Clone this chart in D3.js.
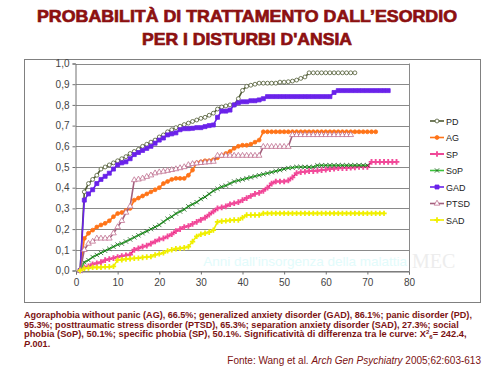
<!DOCTYPE html>
<html><head><meta charset="utf-8">
<script src="https://cdn.jsdelivr.net/npm/d3@7"></script>
<style>
html,body{margin:0;padding:0;background:#fff;}
svg{display:block;font-family:"Liberation Sans",Arial,sans-serif;}
</style></head>
<body>
<script>
// ---- data (years since onset start at 1) ----
const yTicks = [0,0.1,0.2,0.3,0.4,0.5,0.6,0.7,0.8,0.9,1.0];
const xTicks = [0,10,20,30,40,50,60,70,80];
const seriesNames = ["PD","AG","SP","SoP","GAD","PTSD","SAD"];

const PD = [0,0.38,0.42,0.44,0.46,0.49,0.50,0.51,0.52,0.53,0.54,0.55,0.565,0.575,0.585,0.60,0.61,0.62,0.63,0.645,
  0.655,0.67,0.68,0.69,0.697,0.705,0.712,0.72,0.727,0.735,0.74,0.75,0.76,0.78,0.79,0.795,0.80,0.80,0.83,0.87,
  0.89,0.895,0.90,0.905,0.905,0.905,0.905,0.905,0.91,0.91,0.912,0.915,0.92,0.928,0.935,0.955,0.955,0.955,0.955,0.955,
  0.955,0.955,0.955,0.955,0.955,0.955,0.955];
const AG = [0,0.155,0.18,0.195,0.21,0.22,0.228,0.24,0.26,0.275,0.28,0.29,0.30,0.34,0.35,0.36,0.37,0.38,0.39,0.40,
  0.42,0.43,0.44,0.445,0.445,0.445,0.46,0.485,0.52,0.525,0.53,0.53,0.535,0.545,0.555,0.565,0.575,0.59,0.60,0.605,
  0.605,0.61,0.62,0.63,0.67,0.67,0.67,0.67,0.67,0.67,0.67,0.67,0.67,0.67,0.67,0.67,0.67,0.67,0.67,0.67,
  0.67,0.67,0.67,0.67,0.67,0.67,0.67,0.67,0.67,0.67,0.67,0.67];
const SP = [0,0.015,0.02,0.03,0.035,0.04,0.05,0.055,0.06,0.065,0.07,0.073,0.077,0.10,0.107,0.115,0.12,0.13,0.14,0.15,
  0.155,0.165,0.175,0.19,0.20,0.21,0.215,0.225,0.235,0.245,0.255,0.27,0.285,0.30,0.305,0.31,0.32,0.325,0.33,0.34,
  0.35,0.36,0.37,0.375,0.385,0.40,0.42,0.43,0.43,0.43,0.435,0.45,0.47,0.475,0.477,0.48,0.48,0.482,0.485,0.487,
  0.49,0.492,0.494,0.495,0.495,0.497,0.498,0.50,0.50,0.50,0.525,0.525,0.525,0.525,0.525,0.525,0.525];
const SoP = [0,0.04,0.05,0.065,0.075,0.085,0.095,0.105,0.115,0.125,0.13,0.14,0.15,0.16,0.17,0.18,0.19,0.20,0.21,0.22,
  0.235,0.25,0.26,0.275,0.285,0.295,0.31,0.32,0.33,0.345,0.355,0.37,0.385,0.395,0.405,0.41,0.42,0.43,0.435,0.44,
  0.445,0.45,0.455,0.46,0.465,0.47,0.475,0.48,0.485,0.49,0.495,0.497,0.50,0.50,0.50,0.50,0.50,0.508,0.508,0.508,
  0.508,0.508,0.508,0.508,0.508,0.508,0.508,0.508,0.508,0.508];
const GAD = [0,0.34,0.37,0.39,0.42,0.44,0.455,0.47,0.49,0.51,0.52,0.525,0.54,0.56,0.57,0.58,0.59,0.60,0.615,0.63,
  0.64,0.655,0.66,0.665,0.68,0.685,0.685,0.687,0.69,0.69,0.695,0.70,0.703,0.74,0.77,0.77,0.775,0.80,0.81,0.815,
  0.815,0.82,0.82,0.824,0.83,0.84,0.84,0.84,0.84,0.84,0.84,0.84,0.84,0.84,0.84,0.84,0.84,0.84,0.84,0.84,
  0.84,0.86,0.869,0.869,0.869,0.869,0.869,0.869,0.869,0.869,0.869,0.869,0.869,0.869,0.869];
const PTSD = [0,0.10,0.13,0.14,0.155,0.155,0.155,0.155,0.18,0.21,0.24,0.28,0.31,0.437,0.44,0.445,0.453,0.46,0.47,0.475,
  0.478,0.482,0.486,0.49,0.495,0.50,0.51,0.515,0.518,0.52,0.522,0.524,0.526,0.555,0.555,0.555,0.555,0.555,0.555,0.555,
  0.555,0.555,0.555,0.555,0.598,0.598,0.598,0.598,0.598,0.598,0.598,0.655,0.655,0.655,0.655,0.655,0.655,0.655,0.655,0.655,
  0.655,0.655,0.655,0.655,0.655,0.655];
const SAD = [0,0.01,0.012,0.015,0.015,0.015,0.018,0.018,0.02,0.05,0.052,0.055,0.057,0.059,0.06,0.063,0.065,0.067,0.075,0.08,
  0.085,0.095,0.10,0.105,0.107,0.11,0.115,0.14,0.165,0.175,0.18,0.185,0.195,0.235,0.238,0.24,0.242,0.244,0.244,0.255,
  0.268,0.268,0.268,0.268,0.276,0.276,0.276,0.276,0.276,0.276,0.276,0.276,0.276,0.276,0.276,0.276,0.276,0.276,0.276,0.276,
  0.276,0.276,0.276,0.276,0.276,0.276,0.276,0.276,0.276,0.276,0.276,0.276,0.276,0.276];

const seriesValues = {PD, AG, SP, SoP, GAD, PTSD, SAD};

// ---- styles ----
const styles = {
  PD:   {line:"#4f5a34", sym:d3.symbolCircle, size:12, fill:"#ffffff", stroke:"#4f5a34"},
  AG:   {line:"#ff7418", sym:d3.symbolCircle, size:12, fill:"#ff7418", stroke:"#ff7418"},
  SP:   {line:"#e8197c", sym:d3.symbolCross,  size:18, fill:"#f24a9a", stroke:"none"},
  SoP:  {line:"#3cc23c", sym:d3.symbolTimes,  size:14, fill:"none", stroke:"#1d5a1d"},
  GAD:  {line:"#6a22ea", sym:d3.symbolSquare, size:16, fill:"#6a22ea", stroke:"#6a22ea"},
  PTSD: {line:"#a2607c", sym:d3.symbolTriangle, size:14, fill:"#ffffff", stroke:"#c07090"},
  SAD:  {line:"#f0ef00", sym:d3.symbolCross,  size:16, fill:"#f0ef00", stroke:"none"}
};

const W = 491, H = 369;
const svg = d3.select("body").append("svg").attr("width", W).attr("height", H);

// watermark-like faint letters (background decoration)
const wm = [["MEC",412,268]];
svg.selectAll("text.wm").data(wm).enter().append("text").attr("class","wm")
  .attr("x",d=>d[1]).attr("y",d=>d[2]).text(d=>d[0])
  .style("font-family","'Liberation Serif','DejaVu Serif',serif").style("font-size","20px")
  .style("fill","#ededed");

// title
const title = [["PROBABILITÀ DI TRATTAMENTO DALL’ESORDIO",22,420],["PER I DISTURBI D'ANSIA",45,210]];
svg.selectAll("text.title").data(title).enter().append("text").attr("class","title")
  .attr("x",247).attr("y",d=>d[1]).attr("text-anchor","middle")
  .attr("textLength",d=>d[2]).attr("lengthAdjust","spacingAndGlyphs")
  .style("font-size","17px").style("font-weight","bold")
  .style("fill","#8c1010").style("stroke","#8c1010").style("stroke-width","0.7px")
  .text(d=>d[0]);

// chart frame
svg.append("rect").attr("x",24.5).attr("y",59.5).attr("width",456).attr("height",243)
  .attr("fill","none").attr("stroke","#808080").attr("stroke-width",1);

const x = d3.scaleLinear().domain([0,80]).range([76,409]);
const y = d3.scaleLinear().domain([0,1]).range([270.5,63.5]);

// faint axis title
svg.append("text").attr("x",407).attr("y",266).attr("text-anchor","end")
  .style("font-size","13.5px").style("fill","#e2fbfb").text("Anni dall'insorgenza della malattia");

// gridlines
svg.append("g").selectAll("line").data(yTicks).enter().append("line")
  .attr("x1",x(0)).attr("x2",x(80)).attr("y1",d=>Math.round(y(d))+0.5).attr("y2",d=>Math.round(y(d))+0.5)
  .attr("stroke","#8a8a8a").attr("stroke-width",1);
svg.append("line").attr("x1",x(80)+0.5).attr("x2",x(80)+0.5).attr("y1",y(1)).attr("y2",y(0)+1)
  .attr("stroke","#8a8a8a");

// axes
const yAxis = d3.axisLeft(y).tickValues(yTicks).tickSize(3).tickPadding(3)
  .tickFormat(d=>d3.format(".1f")(d).replace(".",","));
const gy = svg.append("g").attr("transform",`translate(${x(0)-0.5},0)`).call(yAxis);
const xAxis = d3.axisBottom(x).tickValues(xTicks).tickSize(3).tickPadding(4);
const gx = svg.append("g").attr("transform",`translate(0,${Math.round(y(0))+0.5})`).call(xAxis);
[gy,gx].forEach(g=>{
  g.select(".domain").attr("stroke","#707070");
  g.selectAll(".tick line").attr("stroke","#707070");
  g.selectAll(".tick text").style("font-family","'Liberation Sans',Arial,sans-serif")
    .style("font-size","10px").style("fill","#444");
});

// series
const line = d3.line().x((d,i)=>x(i+1)).y(d=>y(d));
const plot = svg.append("g");
seriesNames.forEach(name=>{
  const st = styles[name], vals = seriesValues[name];
  plot.append("path").datum(vals).attr("d",line).attr("fill","none")
    .attr("stroke",st.line).attr("stroke-width",1.6).attr("stroke-linejoin","round");
  plot.append("g").selectAll("path").data(vals).enter().append("path")
    .attr("transform",(d,i)=>`translate(${x(i+1)},${y(d)})`)
    .attr("d",d3.symbol().type(st.sym).size(st.size))
    .attr("fill",st.fill).attr("stroke",st.stroke).attr("stroke-width",0.8);
});

// legend
const lg = svg.append("g");
const ly = d3.scalePoint().domain(seriesNames).range([121,220]);
seriesNames.forEach(name=>{
  const st = styles[name], yy = ly(name);
  lg.append("line").attr("x1",430).attr("x2",444).attr("y1",yy).attr("y2",yy)
    .attr("stroke",st.line).attr("stroke-width",1.6);
  lg.append("path").attr("transform",`translate(437,${yy})`)
    .attr("d",d3.symbol().type(st.sym).size(st.size))
    .attr("fill",st.fill).attr("stroke",st.stroke).attr("stroke-width",0.8);
  lg.append("text").attr("x",446).attr("y",yy+3.5).style("font-size","9px").style("fill","#222").text(name);
});

// footer text: font size fitted so each line spans the reference width
const fcol = "#7c1212";
const foot = svg.append("g").style("font-weight","bold").style("fill",fcol);
function fit(sel, target){
  sel.style("font-size","10px");
  const w = sel.node().getComputedTextLength();
  const fs = Math.min(10, 10*target/w);
  sel.style("font-size", fs.toFixed(2)+"px");
}
const l1 = foot.append("text").attr("x",24).attr("y",318)
  .text("Agoraphobia without panic (AG), 66.5%; generalized anxiety disorder (GAD), 86.1%; panic disorder (PD),");
fit(l1, 448);
const l2 = foot.append("text").attr("x",24).attr("y",327.5)
  .text("95.3%; posttraumatic stress disorder (PTSD), 65.3%; separation anxiety disorder (SAD), 27.3%; social");
fit(l2, 435);
const t3 = foot.append("text").attr("x",24).attr("y",337);
t3.append("tspan").text("phobia (SoP), 50.1%; specific phobia (SP), 50.1%. Significatività di differenza tra le curve: X");
t3.append("tspan").attr("dy",-3).style("font-size","6px").text("2");
t3.append("tspan").attr("dy",5).style("font-size","6px").text("6");
t3.append("tspan").attr("dy",-2).text("= 242.4,");
fit(t3, 442);
const t4 = foot.append("text").attr("x",24).attr("y",346.5);
t4.append("tspan").style("font-style","italic").text("P");
t4.append("tspan").text(".001.");
t4.style("font-size", l1.style("font-size"));
const src = svg.append("text").attr("x",481).attr("y",363.5).attr("text-anchor","end")
  .style("font-size","10px").style("fill",fcol);
src.append("tspan").text("Fonte: Wang et al. ");
src.append("tspan").style("font-style","italic").text("Arch Gen Psychiatry");
src.append("tspan").text(" 2005;62:603-613");
</script>
</body></html>
